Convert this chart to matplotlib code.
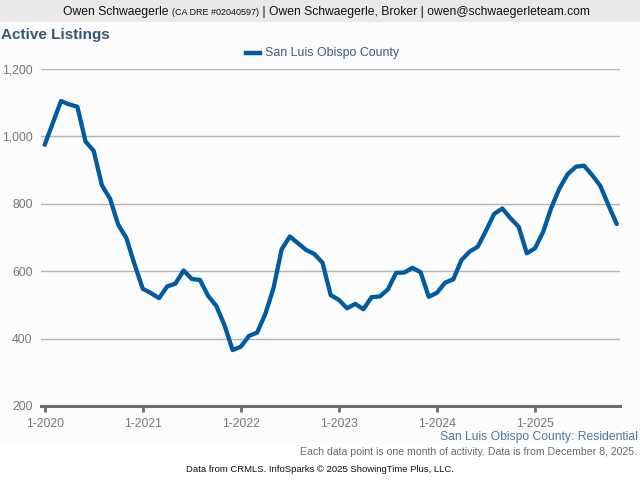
import matplotlib
matplotlib.use("Agg")
import matplotlib.pyplot as plt
from matplotlib.patches import Rectangle

plt.rcParams['font.family'] = ['Liberation Sans', 'DejaVu Sans']

# Monthly active listings, Jan 2020 - Nov 2025
listings = [
    975, 1040, 1105, 1095, 1088, 985, 957, 855, 815, 738, 698, 620,   # 2020
    548, 535, 520, 555, 563, 602, 577, 574, 527, 497, 440, 366,       # 2021
    376, 408, 418, 473, 550, 665, 703, 683, 663, 651, 625, 529,       # 2022
    515, 490, 503, 487, 523, 525, 546, 595, 596, 610, 597, 524,       # 2023
    536, 566, 576, 633, 658, 673, 720, 770, 786, 757, 732, 653,       # 2024
    668, 717, 789, 846, 888, 910, 913, 885, 853, 795, 740,            # 2025
]
tick_months = [0, 12, 24, 36, 48, 60]
tick_labels = ["1-2020", "1-2021", "1-2022", "1-2023", "1-2024", "1-2025"]
y_ticks = [200, 400, 600, 800, 1000, 1200]
y_labels = ["200", "400", "600", "800", "1,000", "1,200"]

LINE = "#005ba1"
GRID = "#b4b4b4"
TICK_TXT = "#777777"

fig = plt.figure(figsize=(6.4, 4.8), dpi=100)

# header band and faint plot background
fig.patches.append(Rectangle((0, 1 - 443 / 480), 1, (443 - 22) / 480, transform=fig.transFigure,
                             facecolor="#fcfcfc", edgecolor="none", zorder=-2))
fig.patches.append(Rectangle((0, 1 - 22 / 480), 1, 22 / 480, transform=fig.transFigure,
                             facecolor="#e9e9e9", edgecolor="none", zorder=-1))

ax = fig.add_axes([41 / 640, 1 - 406 / 480, (620 - 41) / 640, (406 - 69) / 480])
ax.set_zorder(1)
ax.patch.set_alpha(0)

months = list(range(len(listings)))
ax.plot(months, listings, color=LINE, lw=3.1, solid_joinstyle="round",
        solid_capstyle="round", zorder=3, clip_on=False)

ax.set_xlim(-0.45, 70.4)
ax.set_ylim(200, 1200)
ax.set_yticks(y_ticks)
ax.set_yticklabels(y_labels)
ax.set_xticks(tick_months)
ax.set_xticklabels(tick_labels)

for v in y_ticks[1:]:
    ax.axhline(v, color=GRID, lw=1.0, zorder=1)

for s in ["top", "right", "left"]:
    ax.spines[s].set_visible(False)
ax.spines["bottom"].set_color("#6e6e6e")
ax.spines["bottom"].set_linewidth(2.2)
ax.spines["bottom"].set_zorder(4)

ax.tick_params(axis="y", length=0, pad=6, labelsize=8.7, labelcolor=TICK_TXT)
ax.tick_params(axis="x", direction="out", length=4, width=2, color="#6e6e6e",
               pad=4.5, labelsize=8.7, labelcolor=TICK_TXT)

# header text, pieced together
fig.canvas.draw()
renderer = fig.canvas.get_renderer()
pieces = [("Owen Schwaegerle ", 8.7), ("(CA DRE #02040597)", 6.5),
          (" | Owen Schwaegerle, Broker | owen@schwaegerleteam.com", 8.7)]
widths = []
texts = []
for s, fs in pieces:
    t = fig.text(0, 1 - 15 / 480, s, fontsize=fs, color="#111111", ha="left", va="baseline")
    widths.append(t.get_window_extent(renderer).width)
    texts.append(t)
x0 = 63.0
for t, w in zip(texts, widths):
    t.set_x(x0 / 640)
    x0 += w

fig.text(1 / 640, 1 - 35 / 480, "Active Listings", fontsize=11, fontweight="bold",
         color="#34567c", ha="left", va="center")

# legend
fig.add_artist(plt.Line2D([246 / 640, 260 / 640], [1 - 53 / 480, 1 - 53 / 480],
                          transform=fig.transFigure, color=LINE, lw=3.2))
fig.text(265 / 640, 1 - 53 / 480, "San Luis Obispo County", fontsize=8.9,
         color="#3b5b80", ha="left", va="center")

fig.text(638 / 640, 1 - 437 / 480, "San Luis Obispo County: Residential", fontsize=8.7,
         color="#4a76a8", ha="right", va="center")
fig.text(637 / 640, 1 - 452 / 480,
         "Each data point is one month of activity. Data is from December 8, 2025.",
         fontsize=7.6, color="#6a6a6a", ha="right", va="center")
fig.text(320 / 640, 1 - 470 / 480,
         "Data from CRMLS. InfoSparks \u00a9 2025 ShowingTime Plus, LLC.",
         fontsize=6.8, color="#111111", ha="center", va="center",
         family=["Liberation Sans Narrow", "Liberation Sans", "DejaVu Sans"])

fig.savefig("out.png", dpi=100)
